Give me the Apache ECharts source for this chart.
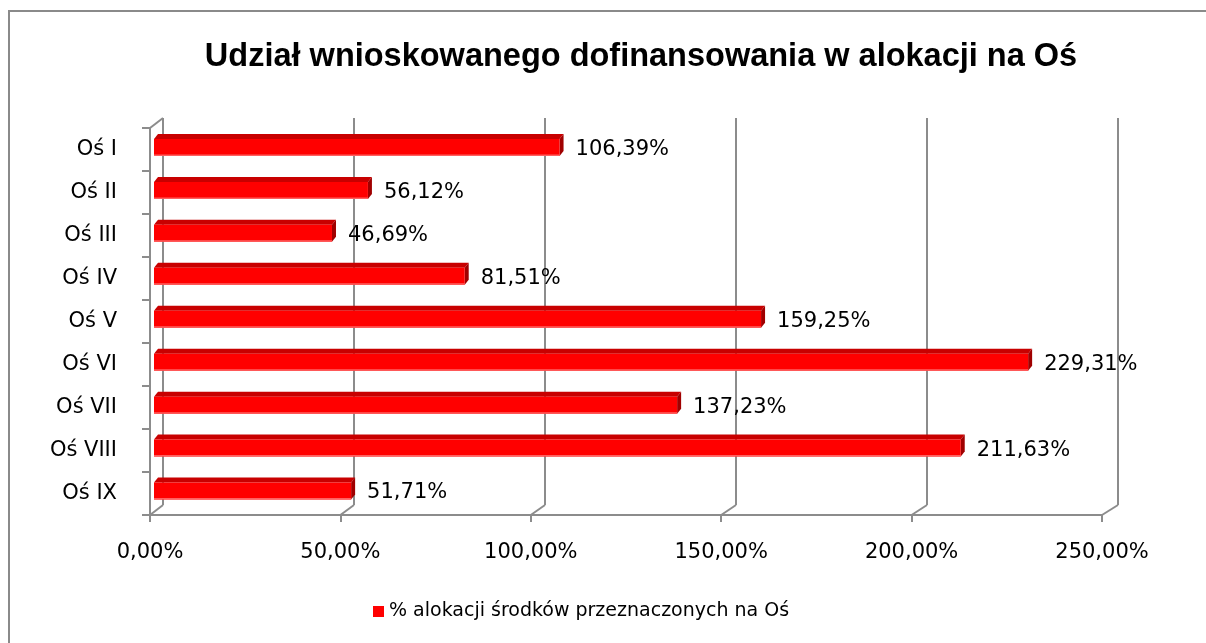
<!DOCTYPE html>
<html>
<head>
<meta charset="utf-8">
<script src="https://cdn.jsdelivr.net/npm/echarts@6/dist/echarts.min.js"></script>
<style>
html,body{margin:0;padding:0;background:#fff;}
#c{width:1206px;height:643px;}
</style>
</head>
<body>
<div id="c"></div>
<script>
// ---- data ----
const titleText = 'Udział wnioskowanego dofinansowania w alokacji na Oś';
const seriesName = '% alokacji środków przeznaczonych na Oś';
const categories = ['Oś I','Oś II','Oś III','Oś IV','Oś V','Oś VI','Oś VII','Oś VIII','Oś IX'];
const values = [106.39, 56.12, 46.69, 81.51, 159.25, 229.31, 137.23, 211.63, 51.71];
const axisMin = 0, axisMax = 250, axisStep = 50;

const FONT = 'DejaVu Sans';
const fmt = v => v.toFixed(2).replace('.', ',') + '%';
const W = 1206, H = 643;
// layout (front, back, bars)
const front = {left:150, right:W-1102, top:128, bottom:H-515};
const back  = {left:163, right:W-1118, top:118, bottom:H-505};
const bars  = {left:154, right:W-1107, top:126, bottom:H-512.5};
const gridColor = '#8c8c8c';

const chart = echarts.init(document.getElementById('c'), null, {renderer:'canvas'});

const option = {
  animation:false,
  backgroundColor:'#fff',
  title:{
    text:titleText, left:636, top:36, textAlign:'center',
    textStyle:{fontFamily:'Liberation Sans', fontWeight:'bold', fontSize:32.5, color:'#000'}
  },
  legend:{
    data:[seriesName], left:368, top:597, icon:'rect', itemWidth:11, itemHeight:11, itemGap:6,
    textStyle:{fontFamily:FONT, fontSize:19, color:'#000'},
    selectedMode:false
  },
  grid:[
    Object.assign({containLabel:false}, back),
    Object.assign({containLabel:false}, front),
    Object.assign({containLabel:false}, bars)
  ],
  xAxis:[
    {gridIndex:0, type:'value', min:axisMin, max:axisMax, interval:axisStep,
     axisLine:{show:false}, axisTick:{show:false}, axisLabel:{show:false},
     splitLine:{show:true, lineStyle:{color:gridColor, width:2}}},
    {gridIndex:1, type:'value', min:axisMin, max:axisMax, interval:axisStep,
     axisLine:{show:true, lineStyle:{color:gridColor, width:2}},
     axisTick:{show:true, length:7, lineStyle:{color:gridColor, width:2}},
     axisLabel:{show:true, formatter:v=>fmt(v), fontFamily:FONT, fontSize:21, color:'#000', margin:27},
     splitLine:{show:false}},
    {gridIndex:2, type:'value', min:axisMin, max:axisMax, show:false}
  ],
  yAxis:[
    {gridIndex:0, type:'category', data:categories, inverse:true, show:false},
    {gridIndex:1, type:'category', data:categories, inverse:true,
     axisLine:{show:true, lineStyle:{color:gridColor, width:2}},
     axisTick:{show:true, length:8, lineStyle:{color:gridColor, width:2}},
     axisLabel:{fontFamily:FONT, fontSize:21, color:'#000', margin:33}},
    {gridIndex:2, type:'category', data:categories, inverse:true, show:false}
  ],
  series:[{
    name:seriesName,
    type:'custom',
    xAxisIndex:2, yAxisIndex:2,
    itemStyle:{color:'#FF0000'},
    data:values.map((v,i)=>[v,i]),
    renderItem:function(params, api){
      const v = api.value(0), i = api.value(1);
      const p0 = api.coord([0, i]);
      const p1 = api.coord([v, i]);
      const h = 17, dx = 4, dy = 5;
      const x0 = p0[0], x1 = p1[0];
      const yT = p1[1] - h/2, yB = p1[1] + h/2;
      return {
        type:'group',
        children:[
          {type:'polygon', shape:{points:[[x0,yT],[x0+dx,yT-dy],[x1+dx,yT-dy],[x1,yT]]},
           style:{fill:'#C80000'}},
          {type:'polygon', shape:{points:[[x1,yT],[x1+dx,yT-dy],[x1+dx,yB-dy],[x1,yB]]},
           style:{fill:'#A00000'}},
          {type:'rect', shape:{x:x0, y:yT, width:x1-x0, height:h},
           style:{fill:'#FF0000'}},
          {type:'rect', shape:{x:x0, y:yB-1.5, width:x1-x0, height:1.5},
           style:{fill:'#FF6060'}},
          {type:'text', x:x1+dx+12, y:p1[1]+2,
           style:{text:fmt(v), fontFamily:FONT, fontSize:21, fill:'#000',
                  verticalAlign:'middle', align:'left'}}
        ]
      };
    }
  }]
};
chart.setOption(option);

// 3D depth connectors computed from the library's axes
const ticks = [];
for (let t = axisMin; t <= axisMax; t += axisStep) ticks.push(t);
const yFront = H - front.bottom, yBack = H - back.bottom;
const graphics = [
  {type:'rect', shape:{x:9, y:11, width:1250, height:700},
   style:{fill:null, stroke:'#8a8a8a', lineWidth:2}, z:100}
];
ticks.forEach(t=>{
  const xf = chart.convertToPixel({xAxisIndex:1}, t);
  const xb = chart.convertToPixel({xAxisIndex:0}, t);
  graphics.push({type:'line', shape:{x1:xf, y1:yFront, x2:xb, y2:yBack},
    style:{stroke:gridColor, lineWidth:2}});
});
const xf0 = chart.convertToPixel({xAxisIndex:1}, axisMin);
const xb0 = chart.convertToPixel({xAxisIndex:0}, axisMin);
graphics.push({type:'line', shape:{x1:xf0, y1:front.top, x2:xb0, y2:back.top},
  style:{stroke:gridColor, lineWidth:2}});
chart.setOption({graphic:graphics});
</script>
</body>
</html>
